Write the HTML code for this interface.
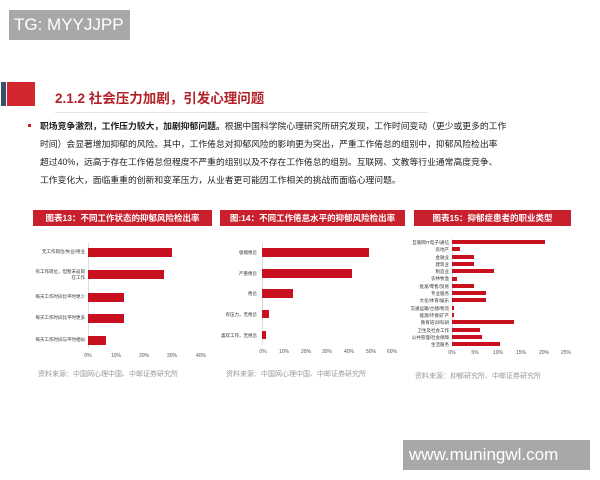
<!DOCTYPE html>
<html><head><meta charset="utf-8"><style>
body{margin:0;width:600px;height:480px;background:#fff;position:relative;overflow:hidden;font-family:"Liberation Sans","Noto Sans CJK SC",sans-serif}
.a{position:absolute;white-space:nowrap}
.hd{position:absolute;background:#c8202d;color:#fff;font-weight:bold;font-size:8.5px;line-height:16px;text-align:center;height:16px;white-space:nowrap;overflow:hidden}
.bar{position:absolute;background:#c8101e}
.lb{position:absolute;font-size:4.5px;color:#333;text-align:right;white-space:nowrap}
.tk{position:absolute;font-size:5px;color:#555;transform:translateX(-50%)}
.src{position:absolute;font-size:7px;color:#999}
</style></head><body>
<div class="a" style="left:9px;top:10px;width:121px;height:30px;background:#a8a8a8;color:#fff;font-size:17px;line-height:30px;padding-left:5px;box-sizing:border-box">TG: MYYJJPP</div>
<div class="a" style="left:1px;top:82px;width:5px;height:24px;background:#3a4f6a"></div>
<div class="a" style="left:7px;top:82px;width:28px;height:24px;background:#d3262f"></div>
<div class="a" style="left:55px;top:87px;font-size:13.5px;font-weight:bold;color:#b22028">2.1.2 社会压力加剧，引发心理问题</div>
<div class="a" style="left:55px;top:112px;width:373px;height:1px;background:#e4e4e4"></div>
<div class="a" style="left:28px;top:124px;width:3px;height:3px;background:#c8202d"></div>
<div class="a" style="left:40px;top:117px;font-size:8.8px;line-height:18px;color:#222">
<b>职场竞争激烈，工作压力较大，加剧抑郁问题。</b>根据中国科学院心理研究所研究发现，工作时间变动（更少或更多的工作<br>时间）会显著增加抑郁的风险。其中，工作倦怠对抑郁风险的影响更为突出，严重工作倦怠的组别中，抑郁风险检出率<br>超过40%，远高于存在工作倦怠但程度不严重的组别以及不存在工作倦怠的组别。互联网、文教等行业通常高度竞争、<br>工作变化大，面临重重的创新和变革压力，从业者更可能因工作相关的挑战而面临心理问题。</div>

<div class="hd" style="left:33px;top:210px;width:179px">图表13：不同工作状态的抑郁风险检出率</div>
<div class="hd" style="left:220px;top:210px;width:185px">图:14：不同工作倦怠水平的抑郁风险检出率</div>
<div class="hd" style="left:414px;top:210px;width:157px">图表15：抑郁症患者的职业类型</div>

<div class="a" style="left:88px;top:243px;width:1px;height:105px;background:#ddd"></div>
<div class="bar" style="left:88px;top:248px;width:84px;height:9px"></div>
<div class="bar" style="left:88px;top:270px;width:76px;height:9px"></div>
<div class="bar" style="left:88px;top:293px;width:36px;height:9px"></div>
<div class="bar" style="left:88px;top:314px;width:36px;height:9px"></div>
<div class="bar" style="left:88px;top:336px;width:18px;height:9px"></div>
<div class="lb" style="right:515px;top:249px">无工作岗位/失业/待业</div>
<div class="lb" style="right:515px;top:269px">有工作岗位，但暂未返岗<br>在工作</div>
<div class="lb" style="right:515px;top:294px">每天工作时间比平时更少</div>
<div class="lb" style="right:515px;top:315px">每天工作时间比平时更多</div>
<div class="lb" style="right:515px;top:337px">每天工作时间与平时相似</div>
<div class="tk" style="left:88px;top:353px">0%</div><div class="tk" style="left:116px;top:353px">10%</div><div class="tk" style="left:144px;top:353px">20%</div><div class="tk" style="left:172px;top:353px">30%</div><div class="tk" style="left:201px;top:353px">40%</div>
<div class="src" style="left:38px;top:369px">资料来源：中国网心理中国、中邮证券研究所</div>

<div class="a" style="left:262px;top:243px;width:1px;height:102px;background:#ddd"></div>
<div class="bar" style="left:262px;top:248px;width:107px;height:9px"></div>
<div class="bar" style="left:262px;top:269px;width:90px;height:9px"></div>
<div class="bar" style="left:262px;top:289px;width:31px;height:9px"></div>
<div class="bar" style="left:262px;top:310px;width:7px;height:8px"></div>
<div class="bar" style="left:262px;top:331px;width:4px;height:8px"></div>
<div class="lb" style="right:343px;top:250px">极端倦怠</div>
<div class="lb" style="right:343px;top:271px">严重倦怠</div>
<div class="lb" style="right:343px;top:291px">倦怠</div>
<div class="lb" style="right:343px;top:312px">有压力，无倦怠</div>
<div class="lb" style="right:343px;top:333px">喜欢工作，无倦怠</div>
<div class="tk" style="left:263px;top:349px">0%</div><div class="tk" style="left:284px;top:349px">10%</div><div class="tk" style="left:306px;top:349px">20%</div><div class="tk" style="left:327px;top:349px">30%</div><div class="tk" style="left:349px;top:349px">40%</div><div class="tk" style="left:371px;top:349px">50%</div><div class="tk" style="left:392px;top:349px">60%</div>
<div class="src" style="left:226px;top:369px">资料来源：中国网心理中国、中邮证券研究所</div>

<div class="a" style="left:452px;top:239px;width:1px;height:108px;background:#ddd"></div>
<div class="tk" style="left:452px;top:350px">0%</div><div class="tk" style="left:475px;top:350px">5%</div><div class="tk" style="left:498px;top:350px">10%</div><div class="tk" style="left:521px;top:350px">15%</div><div class="tk" style="left:544px;top:350px">20%</div><div class="tk" style="left:566px;top:350px">25%</div>
<div class="src" style="left:415px;top:371px">资料来源：抑郁研究所、中邮证券研究所</div>

<div class="bar" style="left:452px;top:240px;width:93px;height:4px"></div>
<div class="bar" style="left:452px;top:247.3px;width:8px;height:4px"></div>
<div class="bar" style="left:452px;top:254.6px;width:22px;height:4px"></div>
<div class="bar" style="left:452px;top:261.9px;width:22px;height:4px"></div>
<div class="bar" style="left:452px;top:269.2px;width:42px;height:4px"></div>
<div class="bar" style="left:452px;top:276.5px;width:5px;height:4px"></div>
<div class="bar" style="left:452px;top:283.8px;width:22px;height:4px"></div>
<div class="bar" style="left:452px;top:291.1px;width:34px;height:4px"></div>
<div class="bar" style="left:452px;top:298.4px;width:34px;height:4px"></div>
<div class="bar" style="left:452px;top:305.7px;width:2px;height:4px"></div>
<div class="bar" style="left:452px;top:313px;width:2px;height:4px"></div>
<div class="bar" style="left:452px;top:320.3px;width:62px;height:4px"></div>
<div class="bar" style="left:452px;top:327.6px;width:28px;height:4px"></div>
<div class="bar" style="left:452px;top:334.9px;width:30px;height:4px"></div>
<div class="bar" style="left:452px;top:342.2px;width:48px;height:4px"></div>
<div class="lb" style="right:151px;top:239px;line-height:7.3px">互联网IT电子/通信<br>房地产<br>金融业<br>建筑业<br>制造业<br>农林牧渔<br>批发/零售/贸易<br>专业服务<br>文化/体育/娱乐<br>交通运输/仓储/物流<br>能源/环保/矿产<br>教育培训/科研<br>卫生及社会工作<br>公共管理/社会保障<br>生活服务</div>

<div class="a" style="left:403px;top:440px;width:187px;height:30px;background:#a8a8a8;color:#fff;font-size:17px;line-height:30px;padding-left:6px;box-sizing:border-box">www.muningwl.com</div>
</body></html>
